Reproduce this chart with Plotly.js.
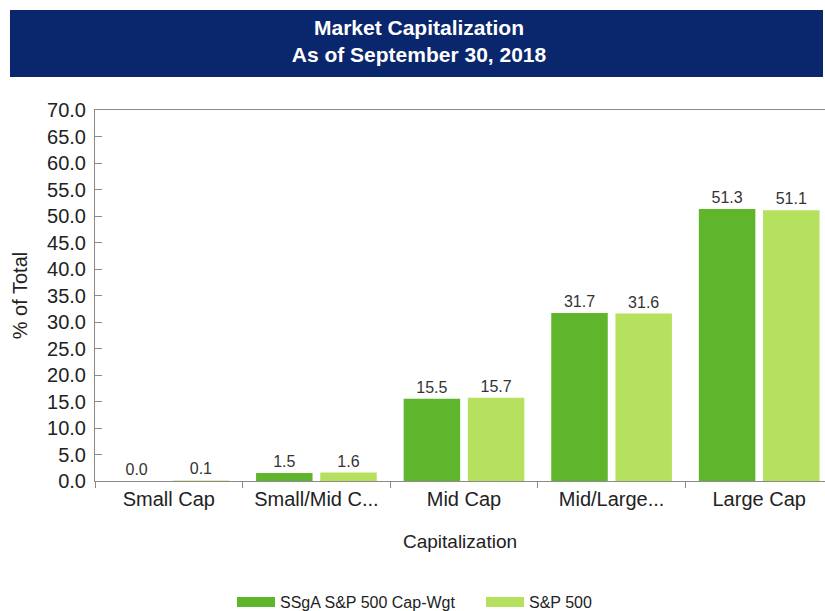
<!DOCTYPE html>
<html>
<head>
<meta charset="utf-8">
<script src="https://cdn.plot.ly/plotly-3.0.1.min.js"></script>
<style>html,body{margin:0;padding:0;background:#fff;}#chart{width:825px;height:611px;}</style>
</head>
<body>
<div id="chart"></div>
<script>
const categories = ["Small Cap", "Small/Mid C...", "Mid Cap", "Mid/Large...", "Large Cap"];
const seriesNames = ["SSgA S&P 500 Cap-Wgt", "S&P 500"];
const ssgaValues = [0.0, 1.5, 15.5, 31.7, 51.3];
const sp500Values = [0.1, 1.6, 15.7, 31.6, 51.1];
const yTickValues = [0, 5, 10, 15, 20, 25, 30, 35, 40, 45, 50, 55, 60, 65, 70];

const FONT = "Liberation Sans, Arial, sans-serif";
const colors = ["#5fb52c", "#b6e15e"];

const mk = (name, vals, color) => ({
  type: "bar",
  name: name,
  x: categories,
  y: vals,
  marker: {color: color},
  text: vals.map(v => v.toFixed(1)),
  textposition: "outside",
  textfont: {family: FONT, size: 16, color: "#333333"},
  cliponaxis: false,
  showlegend: false,
  hoverinfo: "x+y"
});

// legend-only entries (wide swatches like the reference)
const legendEntry = (name, color) => ({
  type: "scatter",
  mode: "lines",
  name: name,
  x: [null],
  y: [null],
  line: {color: color, width: 15},
  showlegend: true,
  hoverinfo: "skip"
});

const data = [
  mk(seriesNames[0], ssgaValues, colors[0]),
  mk(seriesNames[1], sp500Values, colors[1]),
  legendEntry(seriesNames[0], colors[0]),
  legendEntry(seriesNames[1], colors[1])
];

// plot area: x 95..825, y 110..481
const L = 95, R = 825, T = 110, B = 481;
const pw = R - L, ph = B - T;
const px = v => (v - L) / pw;
const py = v => (B - v) / ph;

const layout = {
  width: 825,
  height: 611,
  margin: {l: L, r: 825 - R, t: T, b: 611 - B, pad: 0},
  paper_bgcolor: "#ffffff",
  plot_bgcolor: "#ffffff",
  font: {family: FONT, color: "#222222"},
  barmode: "group",
  bargap: 0.13,
  bargroupgap: 0.12,
  showlegend: true,
  title: {
    text: "Market Capitalization<br>As of September 30, 2018",
    font: {family: FONT, size: 21, color: "#ffffff", weight: "bold"},
    xref: "container", x: 419 / 825, xanchor: "center",
    yref: "container", y: 1 - 35 / 611, yanchor: "middle"
  },
  shapes: [{
    type: "rect", xref: "paper", yref: "paper", layer: "below",
    x0: px(10), x1: px(823), y0: py(77), y1: py(10),
    fillcolor: "#0a266c", line: {width: 0}
  }],
  xaxis: {
    type: "category",
    range: [-0.5, -0.5 + pw / 147.6],
    showline: true, linecolor: "#8a8a8a", linewidth: 1, mirror: true,
    ticks: "outside", tickson: "boundaries", ticklen: 6, tickcolor: "#8a8a8a",
    showgrid: false, zeroline: false,
    tickfont: {family: FONT, size: 20, color: "#222222"},
    title: {text: "Capitalization", font: {family: FONT, size: 19, color: "#222222"}, standoff: 25}
  },
  yaxis: {
    range: [0, 70],
    tickvals: yTickValues,
    ticktext: yTickValues.map(v => v.toFixed(1)),
    showline: true, linecolor: "#8a8a8a", linewidth: 1,
    ticks: "inside", ticklen: 7, tickcolor: "#8a8a8a",
    showgrid: false, zeroline: false,
    tickfont: {family: FONT, size: 20, color: "#222222"},
    ticklabelstandoff: 4,
    title: {text: "% of Total", font: {family: FONT, size: 20, color: "#222222"}, standoff: 14}
  },
  legend: {
    orientation: "h",
    xref: "container", x: 232 / 825, xanchor: "left",
    yref: "container", y: 1 - 602 / 611, yanchor: "middle",
    itemwidth: 38,
    entrywidth: 196,
    font: {family: FONT, size: 16, color: "#222222"},
    traceorder: "normal"
  }
};

Plotly.newPlot("chart", data, layout, {displayModeBar: false, staticPlot: true});
</script>
</body>
</html>
